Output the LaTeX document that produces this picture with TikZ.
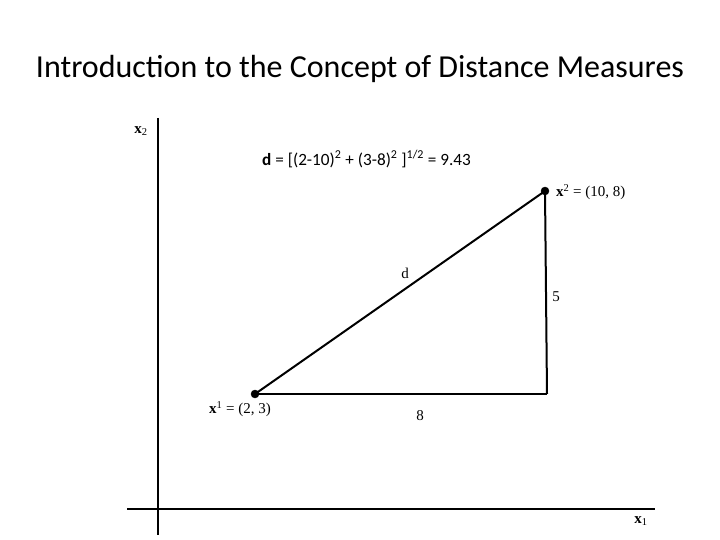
\documentclass[tikz,border=0pt]{standalone}
\usepackage{fontspec}
\setmainfont{Liberation Serif}
\newfontfamily\calfont{Carlito}
\tikzset{
    axis/.style={line width=1.2pt, black},
    side/.style={line width=2pt, black},
    pt/.style={draw, circle, fill, inner sep=0pt, minimum size=8pt},
    lbl/.style={font=\fontsize{15}{17}\selectfont, inner sep=1pt}
}
\begin{document}
\begin{tikzpicture}[x=1pt, y=-1pt]
        \useasboundingbox[fill=white] (0,0) rectangle (720,540);

        % Title
        \node (title) at (360,69) {\calfont\fontsize{32}{36}\selectfont Introduction to the Concept of Distance Measures};

        % Axes
        \coordinate (ytop) at (158,118);
        \coordinate (ybot) at (158,535);
        \coordinate (xleft) at (127,509);
        \coordinate (xright) at (655,509);
        \draw [axis] (ytop) -- (ybot);
        \draw [axis] (xleft) -- (xright);
        \node[lbl] (xtwo) at (141,131) {\textbf{x}\textsubscript{2}};
        \node[lbl] (xone) at (641,521) {\textbf{x}\textsubscript{1}};

        % Formula
        \node[anchor=west, inner sep=0pt] (formula) at (262,159) {\calfont\fontsize{17.2}{20}\selectfont \textbf{d} = [(2-10)\textsuperscript{2} + (3-8)\textsuperscript{2} ]\textsuperscript{1/2} = 9.43};

        % Points
        \node[pt] (p1) at (255,394){};
        \node[pt] (p2) at (545,191){};
        \coordinate (corner) at (547,394);
        \draw [side] (p1.center) -- (p2.center);
        \draw [side] (p2.center) -- (corner);
        \draw [side] (corner) -- (p1.center);

        % Labels
        \node[lbl, anchor=west] (l1) at (208,409) {\textbf{x}\textsuperscript{1} = (2, 3)};
        \node[lbl, anchor=west] (l2) at (555,192) {\textbf{x}\textsuperscript{2} = (10, 8)};
        \node[lbl] (ld) at (405,273) {d};
        \node[lbl] (lfive) at (556,297) {5};
        \node[lbl] (leight) at (420,416) {8};
    \end{tikzpicture}
\end{document}
